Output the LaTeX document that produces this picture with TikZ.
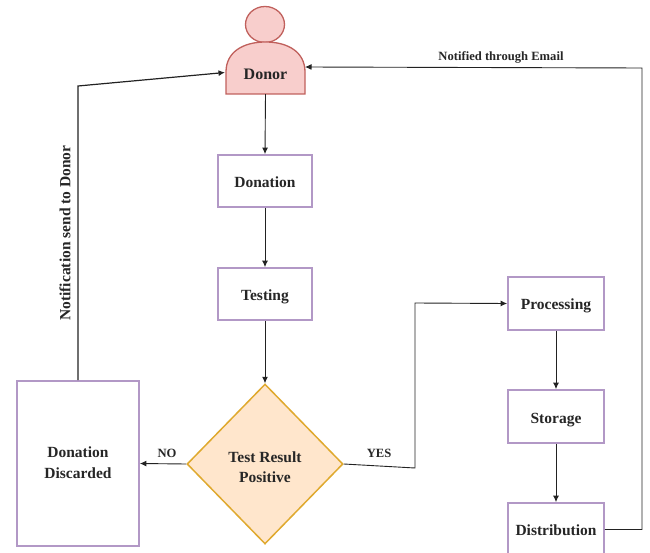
\documentclass[tikz,border=0pt]{standalone}
\usepackage{fontspec}
\setmainfont{Liberation Serif}
\usetikzlibrary{shapes.geometric,arrows.meta}
\definecolor{boxline}{HTML}{B298C6}
\definecolor{donorfill}{HTML}{F8CECC}
\definecolor{donorline}{HTML}{C0605C}
\definecolor{testfill}{HTML}{FFE6CC}
\definecolor{testline}{HTML}{DFA92E}
\definecolor{linkcol}{HTML}{222222}
\newcommand{\lowered}[2]{\raisebox{-#1}[10pt][0pt]{#2}}
\tikzset{
	stagebox/.style={draw=boxline,line width=1.8pt,fill=white,minimum width=94pt,minimum height=52pt,inner sep=0pt,align=center,font=\fontsize{15.5}{21}\selectfont\bfseries,text=black!85},
	linklabel/.style={inner sep=0pt,font=\fontsize{12.6}{14}\selectfont\bfseries,text=black!85},
	link/.style={draw=linkcol,line width=0.9pt,-{Latex[length=6.5pt,width=6pt]}}
}
\begin{document}
\begin{tikzpicture}[x=1pt,y=-1pt]
	\useasboundingbox (0,0) rectangle (650,553);
	% donor figure
	\draw [donorline,fill=donorfill,line width=1.3pt] (265,24.5) ellipse (19.5 and 18);
	\draw [donorline,fill=donorfill,line width=1.3pt] (226,94) -- (226,72) .. controls (226,52) and (243,42) .. (265.5,42) .. controls (288,42) and (305,52) .. (305,72) -- (305,94) -- cycle;
	\node (donor) [minimum width=79pt,minimum height=52pt,inner sep=0pt,font=\fontsize{16}{17}\selectfont\bfseries,text=black!85] at (265.5,68) {\lowered{7pt}{Donor}};
	\coordinate (donorleft) at (225,72.5);
	\coordinate (donorright) at (305,67);
	% stages
	\node (donation) [stagebox] at (265,181) {\lowered{2pt}{Donation}};
	\node (testing) [stagebox] at (265,294) {\lowered{1pt}{Testing}};
	\node (processing) [stagebox,minimum width=96pt,minimum height=53pt] at (556,303.5) {\lowered{1pt}{Processing}};
	\node (storage) [stagebox,minimum width=96pt,minimum height=53pt] at (556,416.5) {\lowered{2pt}{Storage}};
	\node (distribution) [stagebox,minimum width=96pt,minimum height=53pt] at (556,529.5) {\lowered{1pt}{Distribution}};
	\node (discarded) [stagebox,minimum width=122pt,minimum height=165pt] at (78,463.5) {\lowered{-1pt}{Donation}\\\lowered{-1pt}{Discarded}};
	\node (result) [diamond,draw=testline,fill=testfill,line width=1.5pt,aspect=1,minimum width=156pt,minimum height=160pt,inner sep=0pt,align=center,font=\fontsize{15.5}{20}\selectfont\bfseries,text=black!85] at (265,464) {\lowered{3pt}{Test Result}\\\lowered{3pt}{Positive}};
	% links
	\draw [link] (donor.south) -- (donation.north);
	\draw [link] (donation.south) -- (testing.north);
	\draw [link] (testing.south) -- (result.north);
	\draw [link] (result.west) -- (discarded.east);
	\draw [link] (result.east) -- (415,468) -- (415,303) -- (processing.west);
	\draw [link] (processing.south) -- (storage.north);
	\draw [link] (storage.south) -- (distribution.north);
	\draw [link] (distribution.east) -- (642,529.5) -- (642,68) -- (donorright);
	\draw [link,line width=1.2pt] (discarded.north) -- (78,86) -- (donorleft);
	% labels
	\node (nolabel) [linklabel] at (167,453) {NO};
	\node (yeslabel) [linklabel] at (379,453) {YES};
	\node (emaillabel) [linklabel] at (501,57) {Notified through Email};
	\node (sendlabel) [linklabel,rotate=90,font=\fontsize{15.5}{17}\selectfont\bfseries] at (65,233) {Notification send to Donor};
\end{tikzpicture}
\end{document}
